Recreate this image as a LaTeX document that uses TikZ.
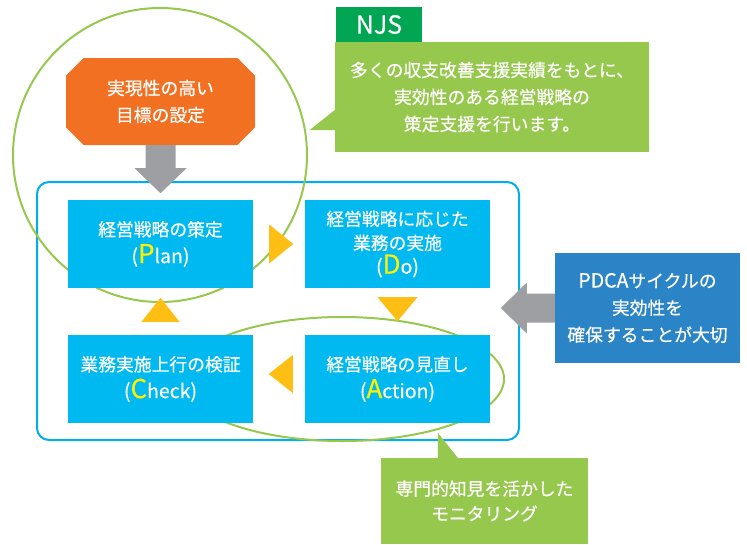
\documentclass[tikz,border=0pt]{standalone}
\usepackage{fontspec}
\setmainfont{Noto Sans CJK JP}[FakeBold=0.4]
\usetikzlibrary{shapes.misc}
\definecolor{goalorange}{RGB}{241,112,34}
\definecolor{boxblue}{RGB}{0,185,240}
\definecolor{framecyan}{RGB}{0,174,239}
\definecolor{tripyellow}{RGB}{255,190,20}
\definecolor{leafgreen}{RGB}{150,200,78}
\definecolor{njsgreen}{RGB}{0,166,81}
\definecolor{noteblue}{RGB}{42,132,198}
\definecolor{arrowgray}{RGB}{158,159,163}
\definecolor{letteryellow}{RGB}{255,242,0}
\newcommand{\cycleletter}[1]{{\color{letteryellow}\fontsize{26}{26}\selectfont #1}}
\newcommand{\latinpart}[1]{{\fontsize{19.5}{27}\selectfont #1}}

\begin{document}
\begin{tikzpicture}[x=1pt,y=-1pt]
    \tikzset{every node/.style={font=\fontsize{17.8}{27}\selectfont, text=white, align=center, inner sep=0pt}}
    \tikzset{stepbox/.style={fill=boxblue, minimum width=185pt, minimum height=88pt}}
    \tikzset{note/.style={fill=leafgreen}}
    \tikzset{ring/.style={draw=leafgreen, line width=2pt}}
    \tikzset{tri/.style={fill=tripyellow}}
    \useasboundingbox (0,0) rectangle (747,544);
    % frame round the cycle
    \draw[framecyan, line width=2pt, rounded corners=12pt] (37,182) rectangle (519,440);
    % green rings
    \draw[ring] (160,155) circle (147);
    \draw[ring] (342,379) ellipse [x radius=162, y radius=62];
    % goal
    \node[chamfered rectangle, chamfered rectangle xsep=14pt, fill=goalorange,
          minimum width=189pt, minimum height=87pt] (goal) at (160.5,101.5) {実現性の高い\\目標の設定};
    \fill[arrowgray] (goal.south) ++(-15,0) -- ++(30,0) -- ++(0,23) -- ++(11,0)
        -- ++(-26,25) -- ++(-26,-25) -- ++(11,0) -- cycle;
    % cycle boxes
    \node[stepbox] (plan) at (160.5,244) {経営戦略の策定\\\latinpart{(\cycleletter{P}lan)}};
    \node[stepbox, font=\fontsize{17.8}{24}\selectfont] (do) at (397.5,244) {経営戦略に応じた\\業務の実施\\\latinpart{(\cycleletter{D}o)}};
    \node[stepbox] (check) at (160.5,379) {業務実施上行の検証\\\latinpart{(\cycleletter{C}heck)}};
    \node[stepbox] (action) at (397.5,379) {経営戦略の見直し\\\latinpart{(\cycleletter{A}ction)}};
    % yellow triangles
    \fill[tri] (plan.east) ++(16,-19.5) -- ++(0,39) -- ++(24,-19.5) -- cycle;
    \fill[tri] (do.south) ++(-20,9) -- ++(40,0) -- ++(-20,24) -- cycle;
    \fill[tri] (action.west) ++(-12,-24) -- ++(0,38) -- ++(-24,-19) -- cycle;
    \fill[tri] (check.north) ++(-19,-13) -- ++(38,0) -- ++(-19,-24) -- cycle;
    % NJS callout
    \node[fill=njsgreen, minimum width=86pt, minimum height=35pt, font=\fontsize{25}{25}\selectfont] (njs) at (379,24.5) {NJS};
    \node[note, minimum width=314pt, minimum height=110pt] (support) at (492,97)
        {多くの収支改善支援実績をもとに、\\実効性のある経営戦略の\\策定支援を行います。};
    \fill[leafgreen] (support.west) ++(0,13) -- ++(-25,20) -- ++(25,0) -- cycle;
    % PDCA note
    \node[fill=noteblue, minimum width=185pt, minimum height=110pt] (pdca) at (647.5,308)
        {\latinpart{PDCA}サイクルの\\実効性を\\確保することが大切};
    \fill[arrowgray] (pdca.west) ++(0,-14.5) -- ++(-28,0) -- ++(0,-11) -- ++(-26,25.5)
        -- ++(26,25.5) -- ++(0,-11) -- ++(28,0) -- cycle;
    % monitoring callout
    \node[note, minimum width=207pt, minimum height=86pt, font=\fontsize{17.8}{25}\selectfont] (monitor) at (484.5,501)
        {専門的知見を活かした\\モニタリング};
    \fill[leafgreen] (monitor.north west) ++(57,0) -- ++(0,-25) -- ++(20,25) -- cycle;
\end{tikzpicture}
\end{document}
